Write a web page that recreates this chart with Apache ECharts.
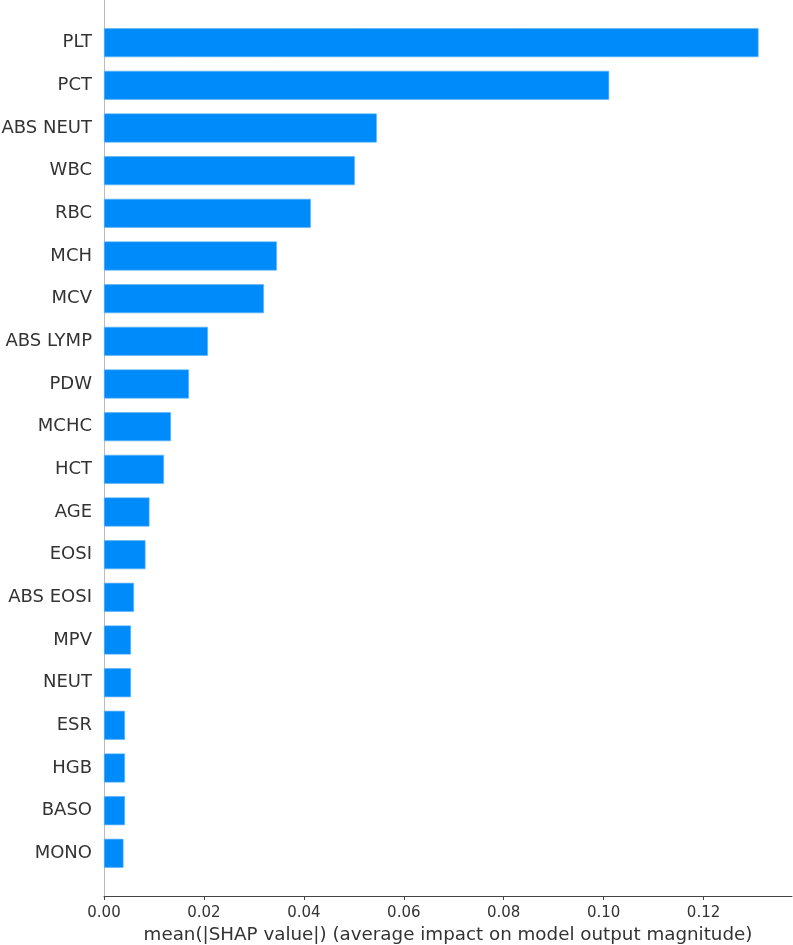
<!DOCTYPE html>
<html>
<head>
<meta charset="utf-8">
<title>SHAP feature importance</title>
<script src="https://cdn.jsdelivr.net/npm/echarts@6/dist/echarts.min.js"></script>
<style>
  html, body { margin: 0; padding: 0; background: #fff; }
  #chart { width: 793px; height: 945px; }
</style>
</head>
<body>
<div id="chart"></div>
<script>
// feature names, top to bottom
const features = [
  "PLT", "PCT", "ABS NEUT", "WBC", "RBC", "MCH", "MCV", "ABS LYMP", "PDW", "MCHC",
  "HCT", "AGE", "EOSI", "ABS EOSI", "MPV", "NEUT", "ESR", "HGB", "BASO", "MONO"
];
// mean(|SHAP value|)
const meanShap = [
  0.1310, 0.1011, 0.0546, 0.0502, 0.0414, 0.0346, 0.0320, 0.0208, 0.0170, 0.0134,
  0.0120, 0.0091, 0.0083, 0.0060, 0.0054, 0.0054, 0.0042, 0.0042, 0.0042, 0.0039
];
const xTicks = [0, 0.02, 0.04, 0.06, 0.08, 0.10, 0.12];

const font = "DejaVu Sans";

// empty slots at both ends give the one-row padding matplotlib uses
const cats = [""].concat(features, [""]);
const vals = [null].concat(meanShap, [null]);

const chart = echarts.init(document.getElementById("chart"));
chart.setOption({
  animation: false,
  grid: { left: 104, right: 1, top: 0, bottom: 49, containLabel: false, outerBoundsMode: "none" },
  xAxis: {
    type: "value",
    min: 0,
    max: 0.1377,
    name: "mean(|SHAP value|) (average impact on model output magnitude)",
    nameLocation: "middle",
    nameGap: 30,
    nameTextStyle: { color: "#333", fontSize: 18.3, fontFamily: font },
    splitLine: { show: false },
    axisLine: { show: true, lineStyle: { color: "#444", width: 1 } },
    axisTick: { show: true, length: 4, lineStyle: { color: "#444" }, customValues: xTicks },
    axisLabel: {
      color: "#333", fontSize: 15, fontFamily: font, margin: 10,
      customValues: xTicks,
      formatter: (v) => v.toFixed(2)
    }
  },
  yAxis: {
    type: "category",
    inverse: true,
    boundaryGap: false,
    data: cats,
    axisLine: { show: true, lineStyle: { color: "#bbb", width: 1 } },
    axisTick: { show: false },
    splitLine: { show: false },
    axisLabel: { color: "#333", fontSize: 18, fontFamily: font, margin: 12, interval: 0 }
  },
  series: [{
    type: "bar",
    data: vals,
    barWidth: 29,
    itemStyle: { color: "#008bfb", borderColor: "#5fb3fc", borderWidth: 0.6 }
  }]
});
</script>
</body>
</html>
